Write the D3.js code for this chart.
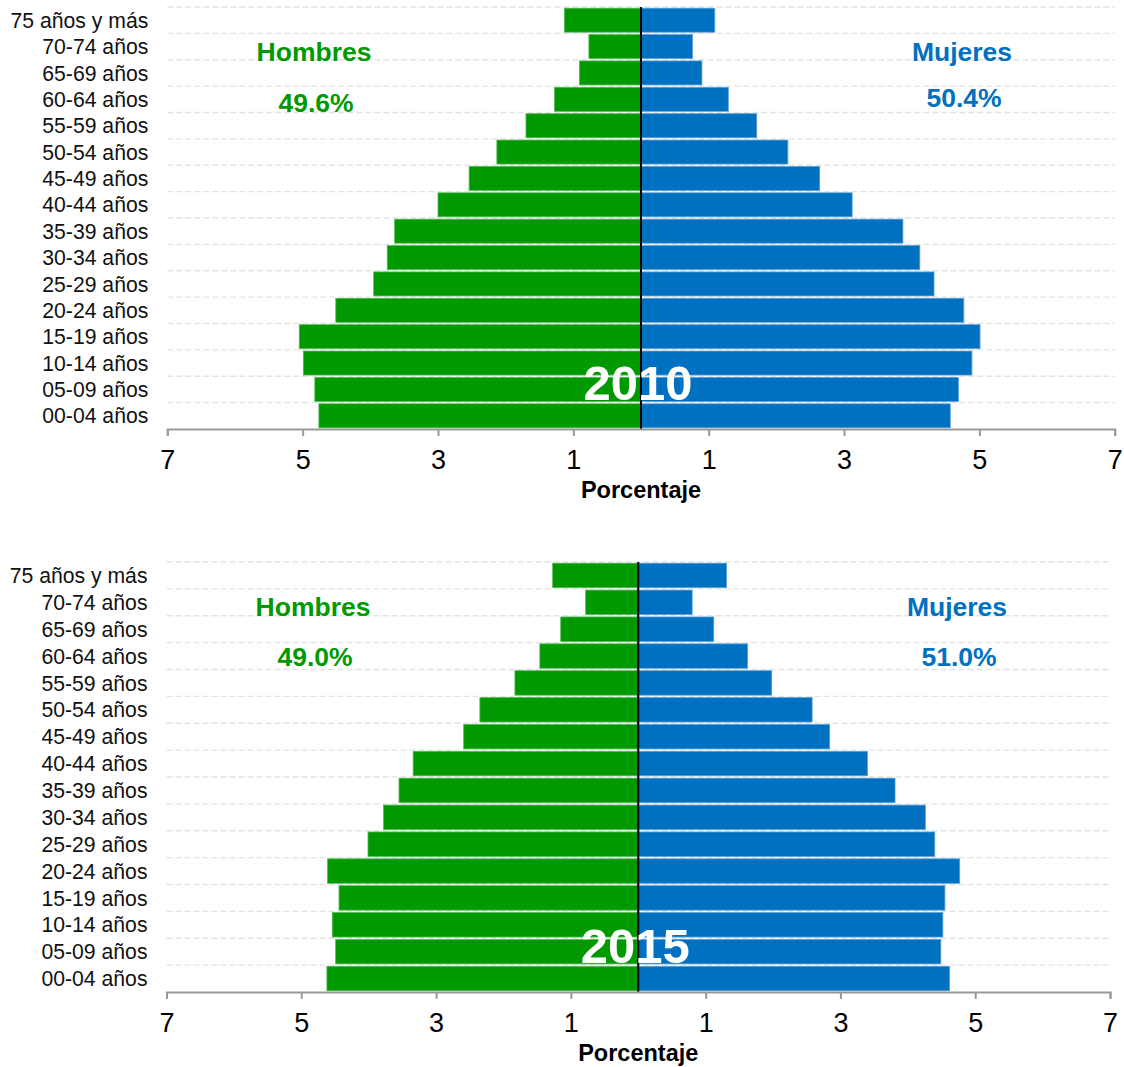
<!DOCTYPE html>
<html>
<head>
<meta charset="utf-8">
<script src="https://cdn.jsdelivr.net/npm/d3@7/dist/d3.min.js"></script>
<style>
  html, body { margin: 0; padding: 0; background: #fff; }
  svg { display: block; }
  text { font-family: "Liberation Sans", Arial, sans-serif; }
</style>
</head>
<body>
<svg id="chart" width="1124" height="1067"></svg>
<script>
// ---- Data ----
const ageGroups = ["75 años y más","70-74 años","65-69 años","60-64 años","55-59 años","50-54 años",
  "45-49 años","40-44 años","35-39 años","30-34 años","25-29 años","20-24 años","15-19 años",
  "10-14 años","05-09 años","00-04 años"];
const hombres2010 = [1.13,0.77,0.91,1.28,1.70,2.13,2.54,3.00,3.64,3.75,3.95,4.51,5.05,4.99,4.82,4.76];
const mujeres2010 = [1.09,0.76,0.90,1.29,1.71,2.17,2.64,3.12,3.87,4.12,4.33,4.77,5.01,4.89,4.69,4.57];
const hombres2015 = [1.27,0.78,1.15,1.46,1.83,2.35,2.59,3.34,3.55,3.78,4.01,4.61,4.44,4.54,4.49,4.62];
const mujeres2015 = [1.31,0.80,1.12,1.62,1.98,2.58,2.84,3.40,3.81,4.26,4.40,4.77,4.55,4.52,4.49,4.62];
const tickValues = [-7,-5,-3,-1,1,3,5,7];
const years = ["2010","2015"];
const shareHombres = ["49.6%","49.0%"];
const shareMujeres = ["50.4%","51.0%"];
const labelHombres = "Hombres";
const labelMujeres = "Mujeres";
const axisTitle = "Porcentaje";

const GREEN = "#009900", GREEN_EDGE = "#55b855";
const BLUE = "#0070c0", BLUE_EDGE = "#5a9fd6";

const svg = d3.select("#chart");

function drawPanel(cfg) {
  const g = svg.append("g");
  const x = d3.scaleLinear().domain([-7, 7]).range([cfg.left, cfg.right]);
  const y = d3.scaleBand().domain(ageGroups).range([cfg.top, cfg.bottom])
    .paddingInner(0.09).paddingOuter(0.045);

  // dashed gridlines at band boundaries
  g.selectAll("line.grid").data(ageGroups).enter().append("line")
    .attr("class", "grid")
    .attr("x1", x(-7)).attr("x2", x(7))
    .attr("y1", (d, i) => cfg.top + i * (cfg.bottom - cfg.top) / ageGroups.length)
    .attr("y2", (d, i) => cfg.top + i * (cfg.bottom - cfg.top) / ageGroups.length)
    .attr("stroke", "#e3e3e3").attr("stroke-width", 1.3).attr("stroke-dasharray", "6,3");

  // bars: hombres (left)
  g.selectAll("rect.h").data(cfg.hombres).enter().append("rect")
    .attr("class", "h")
    .attr("x", d => x(-d)).attr("width", d => x(0) - x(-d))
    .attr("y", (d, i) => y(ageGroups[i])).attr("height", y.bandwidth())
    .attr("fill", GREEN).attr("stroke", GREEN_EDGE).attr("stroke-width", 0.8);
  // bars: mujeres (right)
  g.selectAll("rect.m").data(cfg.mujeres).enter().append("rect")
    .attr("class", "m")
    .attr("x", x(0)).attr("width", d => x(d) - x(0))
    .attr("y", (d, i) => y(ageGroups[i])).attr("height", y.bandwidth())
    .attr("fill", BLUE).attr("stroke", BLUE_EDGE).attr("stroke-width", 0.8);

  // center line
  g.append("line").attr("x1", x(0)).attr("x2", x(0))
    .attr("y1", cfg.top).attr("y2", cfg.bottom)
    .attr("stroke", "#000").attr("stroke-width", 2);

  // category labels
  g.selectAll("text.cat").data(ageGroups).enter().append("text")
    .attr("class", "cat")
    .attr("x", cfg.left - 19)
    .attr("y", d => y(d) + y.bandwidth() / 2)
    .attr("dy", "0.36em")
    .attr("text-anchor", "end")
    .attr("font-size", 21.2).attr("fill", "#111")
    .text(d => d);

  // x axis
  const axis = d3.axisBottom(x).tickValues(tickValues).tickSize(7).tickPadding(14)
    .tickFormat(d => Math.abs(d));
  const ag = g.append("g").attr("transform", `translate(0,${cfg.bottom})`).call(axis);
  ag.select(".domain").attr("stroke", "#999").attr("stroke-width", 2);
  ag.selectAll(".tick line").attr("stroke", "#999").attr("stroke-width", 2);
  ag.selectAll(".tick text").attr("font-size", 27).attr("fill", "#000")
    .attr("font-family", "Liberation Sans, Arial, sans-serif");

  g.append("text").attr("x", x(0)).attr("y", cfg.bottom + 69)
    .attr("text-anchor", "middle").attr("font-size", 23.5).attr("font-weight", "bold")
    .attr("fill", "#000").text(axisTitle);

  // annotations
  g.append("text").attr("x", cfg.hX).attr("y", cfg.top + 54)
    .attr("text-anchor", "middle").attr("font-size", 26.5).attr("font-weight", "bold")
    .attr("fill", GREEN).text(labelHombres);
  g.append("text").attr("x", cfg.hX + 2).attr("y", cfg.top + cfg.hPctDy)
    .attr("text-anchor", "middle").attr("font-size", 26.5).attr("font-weight", "bold")
    .attr("fill", GREEN).text(cfg.shareH);
  g.append("text").attr("x", cfg.mX).attr("y", cfg.top + 54)
    .attr("text-anchor", "middle").attr("font-size", 26.5).attr("font-weight", "bold")
    .attr("fill", BLUE).text(labelMujeres);
  g.append("text").attr("x", cfg.mX + 2).attr("y", cfg.top + cfg.mPctDy)
    .attr("text-anchor", "middle").attr("font-size", 26.5).attr("font-weight", "bold")
    .attr("fill", BLUE).text(cfg.shareM);

  // year label
  g.append("text").attr("x", x(0) - 3).attr("y", cfg.bottom - 29)
    .attr("text-anchor", "middle").attr("font-size", 49).attr("font-weight", "bold")
    .attr("fill", "#fff").text(cfg.year);
}

drawPanel({ left: 167.3, right: 1114.7, top: 7, bottom: 429,
  hombres: hombres2010, mujeres: mujeres2010, year: years[0],
  shareH: shareHombres[0], shareM: shareMujeres[0],
  hX: 314, mX: 962, hPctDy: 105, mPctDy: 100 });
drawPanel({ left: 166.5, right: 1110, top: 562, bottom: 992,
  hombres: hombres2015, mujeres: mujeres2015, year: years[1],
  shareH: shareHombres[1], shareM: shareMujeres[1],
  hX: 313, mX: 957, hPctDy: 104, mPctDy: 104 });
</script>
</body>
</html>
